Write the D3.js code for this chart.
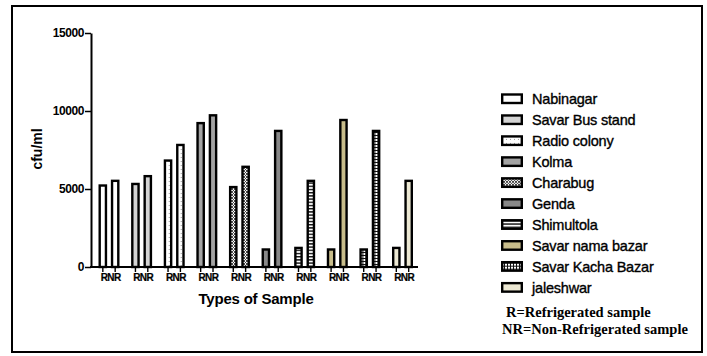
<!DOCTYPE html>
<html>
<head>
<meta charset="utf-8">
<script src="https://cdn.jsdelivr.net/npm/d3@7"></script>
<style>
  body { margin: 0; background: #fff; }
  svg { display: block; }
</style>
</head>
<body>
<svg id="chart"></svg>
<script>
const sites = ["Nabinagar", "Savar Bus stand", "Radio colony", "Kolma", "Charabug",
  "Genda", "Shimultola", "Savar nama bazar", "Savar Kacha Bazar", "jaleshwar"];
const sampleTypes = ["R", "NR"];
const refrigerated = [5300, 5400, 6900, 9300, 5200, 1200, 1300, 1200, 1200, 1300];
const nonRefrigerated = [5600, 5900, 7900, 9800, 6500, 8800, 5600, 9500, 8800, 5600];
const yTicks = [0, 5000, 10000, 15000];
const notes = ["R=Refrigerated sample", "NR=Non-Refrigerated sample"];

const fills = ["#ffffff", "#d4d4d4", "url(#dots)", "#a3a3a3", "url(#checks)",
  "#888888", "url(#stripes)", "#c8bd8b", "url(#grid)", "#ece8d3"];

const svg = d3.select('#chart').attr('width', 707).attr('height', 356);

// patterns
const defs = svg.append("defs");
const dots = defs.append("pattern").attr("id", "dots").attr("patternUnits", "userSpaceOnUse")
  .attr("width", 4).attr("height", 4);
dots.append("rect").attr("width", 4).attr("height", 4).attr("fill", "#fff");
dots.append("rect").attr("x", 1).attr("y", 1).attr("width", 1).attr("height", 1).attr("fill", "#999");

const checks = defs.append("pattern").attr("id", "checks").attr("patternUnits", "userSpaceOnUse")
  .attr("width", 3).attr("height", 3);
checks.append("rect").attr("width", 3).attr("height", 3).attr("fill", "#fff");
checks.append("path").attr("d", "M0,0L3,3M3,0L0,3").attr("stroke", "#333").attr("stroke-width", 0.9);

const stripes = defs.append("pattern").attr("id", "stripes").attr("patternUnits", "userSpaceOnUse")
  .attr("width", 4).attr("height", 3.2);
stripes.append("rect").attr("width", 4).attr("height", 3.2).attr("fill", "#fff");
stripes.append("rect").attr("y", 0).attr("width", 4).attr("height", 1.4).attr("fill", "#111");

const grid = defs.append("pattern").attr("id", "grid").attr("patternUnits", "userSpaceOnUse")
  .attr("width", 3).attr("height", 3);
grid.append("rect").attr("width", 3).attr("height", 3).attr("fill", "#fff");
grid.append("path").attr("d", "M0,0.5H3M0.5,0V3").attr("stroke", "#111").attr("stroke-width", 1);

// frame
svg.append("rect").attr("x", 12).attr("y", 6).attr("width", 690).attr("height", 346)
  .attr("fill", "none").attr("stroke", "#000").attr("stroke-width", 2);

const y = d3.scaleLinear().domain([0, 15000]).range([267, 33]);
const x = d3.scaleBand().domain(sites).range([98.5, 413]).paddingInner(0.356).paddingOuter(0);
const xInner = d3.scaleBand().domain(sampleTypes).range([0, x.bandwidth()]).paddingInner(0.3);

// y axis
const yAxis = svg.append("g").attr("transform", "translate(91,0)")
  .call(d3.axisLeft(y).tickValues(yTicks).tickSize(6).tickPadding(1).tickSizeOuter(0).tickFormat(d3.format("d")));
yAxis.select(".domain").attr("stroke-width", 2);
yAxis.selectAll(".tick line").attr("stroke-width", 1.5);
yAxis.selectAll("text").attr("font-family", "Liberation Sans, Arial, sans-serif")
  .attr("font-weight", "bold").attr("font-size", 12).attr("fill", "#000").attr("letter-spacing", -0.4);

// bars
const rows = sites.map((s, i) => ({ site: s, i, values: [refrigerated[i], nonRefrigerated[i]] }));
const groups = svg.append("g").selectAll("g").data(rows).enter().append("g")
  .attr("transform", d => `translate(${x(d.site)},0)`);

groups.selectAll("rect")
  .data(d => d.values.map((v, k) => ({ type: sampleTypes[k], value: v, i: d.i })))
  .enter().append("rect")
  .attr("x", d => xInner(d.type) + 1.2)
  .attr("width", xInner.bandwidth() - 2.4)
  .attr("y", d => y(d.value) + 1.2)
  .attr("height", d => y(0) - y(d.value) - 1.2)
  .attr("fill", d => fills[d.i])
  .attr("stroke", "#000")
  .attr("stroke-width", 2.4);

// x baseline
svg.append("line").attr("x1", 90).attr("x2", 418).attr("y1", y(0)).attr("y2", y(0))
  .attr("stroke", "#000").attr("stroke-width", 2);

// group tick labels R / NR
groups.each(function() {
  const ax = d3.select(this).append("g").attr("transform", `translate(0,${y(0)})`)
    .call(d3.axisBottom(xInner).tickSize(5).tickPadding(2).tickSizeOuter(0));
  ax.select(".domain").remove();
  ax.selectAll(".tick line").attr("stroke-width", 1.4);
  ax.selectAll("text").attr("font-family", "Liberation Sans, Arial, sans-serif")
    .attr("font-weight", "bold").attr("font-size", 10).attr("fill", "#000")
    .attr("letter-spacing", -0.5)
    .attr("dx", d => d === "R" ? 1.2 : -1.2)
    .attr("stroke", "#000").attr("stroke-width", 0.2);
});

// axis titles
svg.append("text").attr("transform", "translate(42,149) rotate(-90)")
  .attr("text-anchor", "middle").attr("font-family", "Liberation Sans, Arial, sans-serif")
  .attr("font-weight", "bold").attr("font-size", 14).text("cfu/ml");
svg.append("text").attr("x", 256).attr("y", 304)
  .attr("text-anchor", "middle").attr("font-family", "Liberation Sans, Arial, sans-serif")
  .attr("font-weight", "bold").attr("font-size", 15).attr("letter-spacing", -0.2).text("Types of Sample");

// legend
const legend = svg.append("g").attr("transform", "translate(501,104)");
const items = legend.selectAll("g").data(sites).enter().append("g")
  .attr("transform", (d, i) => `translate(0,${i * 20.96})`);
items.append("rect").attr("x", 1.2).attr("y", -9.5).attr("width", 19.6).attr("height", 8.5)
  .attr("fill", (d, i) => fills[i]).attr("stroke", "#000").attr("stroke-width", 2.4);
items.append("text").attr("x", 31).attr("y", 0)
  .attr("font-family", "Liberation Sans, Arial, sans-serif").attr("font-size", 14.5)
  .attr("letter-spacing", -0.2).attr("stroke", "#000").attr("stroke-width", 0.35)
  .text(d => d);

svg.append("g").selectAll("text").data(notes).enter().append("text")
  .attr("x", (d, i) => i === 0 ? 506 : 502)
  .attr("y", (d, i) => 317 + i * 17)
  .attr("font-family", "Liberation Serif, Times New Roman, serif")
  .attr("font-weight", "bold").attr("font-size", 14.5)
  .text(d => d);
</script>
</body>
</html>
